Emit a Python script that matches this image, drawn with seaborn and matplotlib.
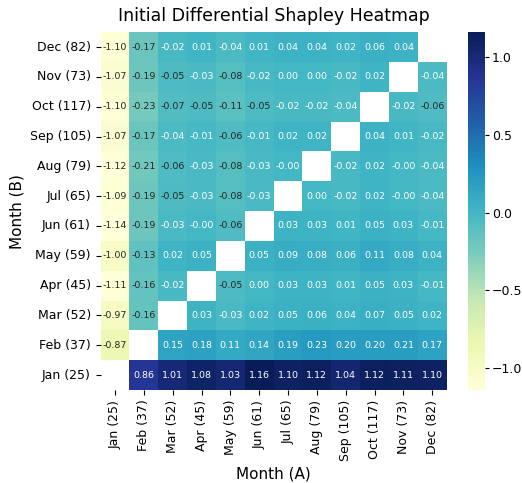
import numpy as np
import pandas as pd
import matplotlib
matplotlib.use("Agg")
import matplotlib.pyplot as plt
import seaborn as sns

months_a = ["Jan (25)", "Feb (37)", "Mar (52)", "Apr (45)", "May (59)", "Jun (61)",
            "Jul (65)", "Aug (79)", "Sep (105)", "Oct (117)", "Nov (73)", "Dec (82)"]
months_b = ["Dec (82)", "Nov (73)", "Oct (117)", "Sep (105)", "Aug (79)", "Jul (65)",
            "Jun (61)", "May (59)", "Apr (45)", "Mar (52)", "Feb (37)", "Jan (25)"]
nan = np.nan
row_dec = [-1.10, -0.17, -0.02, 0.01, -0.04, 0.01, 0.04, 0.04, 0.02, 0.06, 0.04, nan]
row_nov = [-1.07, -0.19, -0.05, -0.03, -0.08, -0.02, 0.00, 0.00, -0.02, 0.02, nan, -0.04]
row_oct = [-1.10, -0.23, -0.07, -0.05, -0.11, -0.05, -0.02, -0.02, -0.04, nan, -0.02, -0.06]
row_sep = [-1.07, -0.17, -0.04, -0.01, -0.06, -0.01, 0.02, 0.02, nan, 0.04, 0.01, -0.02]
row_aug = [-1.12, -0.21, -0.06, -0.03, -0.08, -0.03, -0.001, nan, -0.02, 0.02, -0.001, -0.04]
row_jul = [-1.09, -0.19, -0.05, -0.03, -0.08, -0.03, nan, 0.00, -0.02, 0.02, -0.001, -0.04]
row_jun = [-1.14, -0.19, -0.03, -0.001, -0.06, nan, 0.03, 0.03, 0.01, 0.05, 0.03, -0.01]
row_may = [-1.00, -0.13, 0.02, 0.05, nan, 0.05, 0.09, 0.08, 0.06, 0.11, 0.08, 0.04]
row_apr = [-1.11, -0.16, -0.02, nan, -0.05, 0.00, 0.03, 0.03, 0.01, 0.05, 0.03, -0.01]
row_mar = [-0.97, -0.16, nan, 0.03, -0.03, 0.02, 0.05, 0.06, 0.04, 0.07, 0.05, 0.02]
row_feb = [-0.87, nan, 0.15, 0.18, 0.11, 0.14, 0.19, 0.23, 0.20, 0.20, 0.21, 0.17]
row_jan = [nan, 0.86, 1.01, 1.08, 1.03, 1.16, 1.10, 1.12, 1.04, 1.12, 1.11, 1.10]

data = pd.DataFrame([row_dec, row_nov, row_oct, row_sep, row_aug, row_jul,
                     row_jun, row_may, row_apr, row_mar, row_feb, row_jan],
                    index=months_b, columns=months_a)

fig = plt.figure(figsize=(5.22, 4.83), dpi=100)
ax = fig.add_axes([0.1927, 0.1925, 0.663, 0.741])
cax = fig.add_axes([0.8966, 0.1925, 0.0326, 0.741])
sns.heatmap(data, ax=ax, cbar_ax=cax, cmap="YlGnBu", annot=True, fmt=".2f",
            annot_kws={"fontsize": 6.8})
ax.set_title("Initial Differential Shapley Heatmap", fontsize=12.5, pad=8)
ax.set_xlabel("Month (A)", fontsize=11)
ax.set_ylabel("Month (B)", fontsize=11)
ax.tick_params(axis="both", labelsize=9)
plt.setp(ax.get_xticklabels(), rotation=90)
plt.setp(ax.get_yticklabels(), rotation=0)
cax.tick_params(labelsize=9, pad=2, length=3)
fig.savefig("out.png", dpi=100)
